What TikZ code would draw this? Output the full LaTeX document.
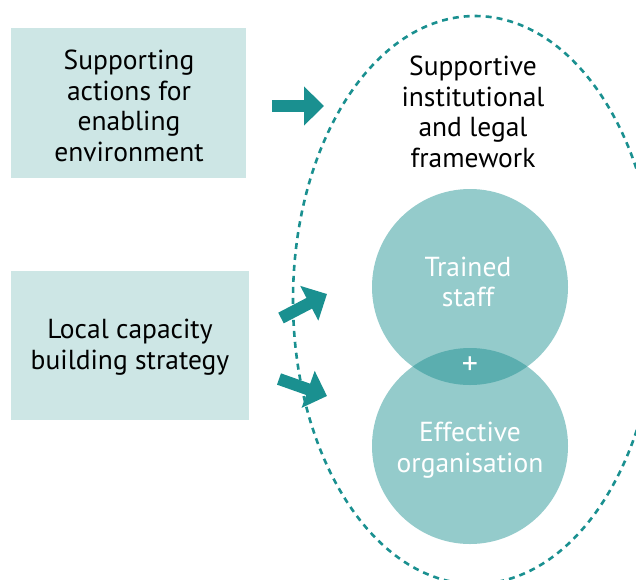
\documentclass[tikz,border=0pt]{standalone}
\usepackage{fontspec}
\setmainfont{PT Sans}
\usetikzlibrary{arrows.meta}
\definecolor{boxfill}{HTML}{CDE6E5}
\definecolor{circfill}{HTML}{94CBCB}
\definecolor{lensfill}{HTML}{5BAEAF}
\definecolor{teal}{HTML}{1A9090}
\tikzset{
  boxstyle/.style={fill=boxfill, draw=none, inner sep=0pt},
  boxtext/.style={align=center, font=\fontsize{27.5}{30.5}\selectfont, text=black},
  circtext/.style={align=center, font=\fontsize{27.5}{30.5}\selectfont, text=white},
  blockarrow/.style={draw=teal, line width=12pt, -{Triangle[length=20pt,width=38pt]}},
}
\begin{document}
\begin{tikzpicture}[x=1pt,y=-1pt]
\useasboundingbox (0,0) rectangle (636,579);
\clip (0,0) rectangle (636,579);
% boxes
\node[boxstyle, minimum width=235pt, minimum height=150pt] (b1) at (128.5,103) {};
\node[boxstyle, minimum width=238pt, minimum height=149pt] (b2) at (130,345.5) {};
\node[boxtext] (t1) at (129,106) {Supporting\\actions for\\enabling\\environment};
\node[boxtext] (t2) at (130,347) {Local capacity\\building strategy};
% circles
\def\rr{98}
\fill[circfill] (470,287) circle (\rr);
\fill[circfill] (470,446) circle (\rr);
\begin{scope}
\clip (470,287) circle (\rr);
\fill[lensfill] (470,446) circle (\rr);
\end{scope}
\node[circtext] (c1) at (468,282) {Trained\\staff};
\node[circtext] (c2) at (470,450) {Effective\\organisation};
\node[text=white, font=\fontsize{32}{34}\selectfont] (plus) at (470,366) {+};
% dashed ellipse
\draw[teal, line width=2.6pt, dash pattern=on 6pt off 5pt] (475,300) ellipse [x radius=182, y radius=284];
\node[boxtext] (t3) at (473,112) {Supportive\\institutional\\and legal\\framework};
% arrows
\coordinate (a1s) at (272,106);
\coordinate (a1e) at (324,106);
\coordinate (a2s) at (281,318);
\coordinate (a2e) at (327,294);
\coordinate (a3s) at (279,379);
\coordinate (a3e) at (327,396);
\draw[blockarrow] (a1s) -- (a1e);
\draw[blockarrow] (a2s) -- (a2e);
\draw[blockarrow] (a3s) -- (a3e);
\end{tikzpicture}
\end{document}
